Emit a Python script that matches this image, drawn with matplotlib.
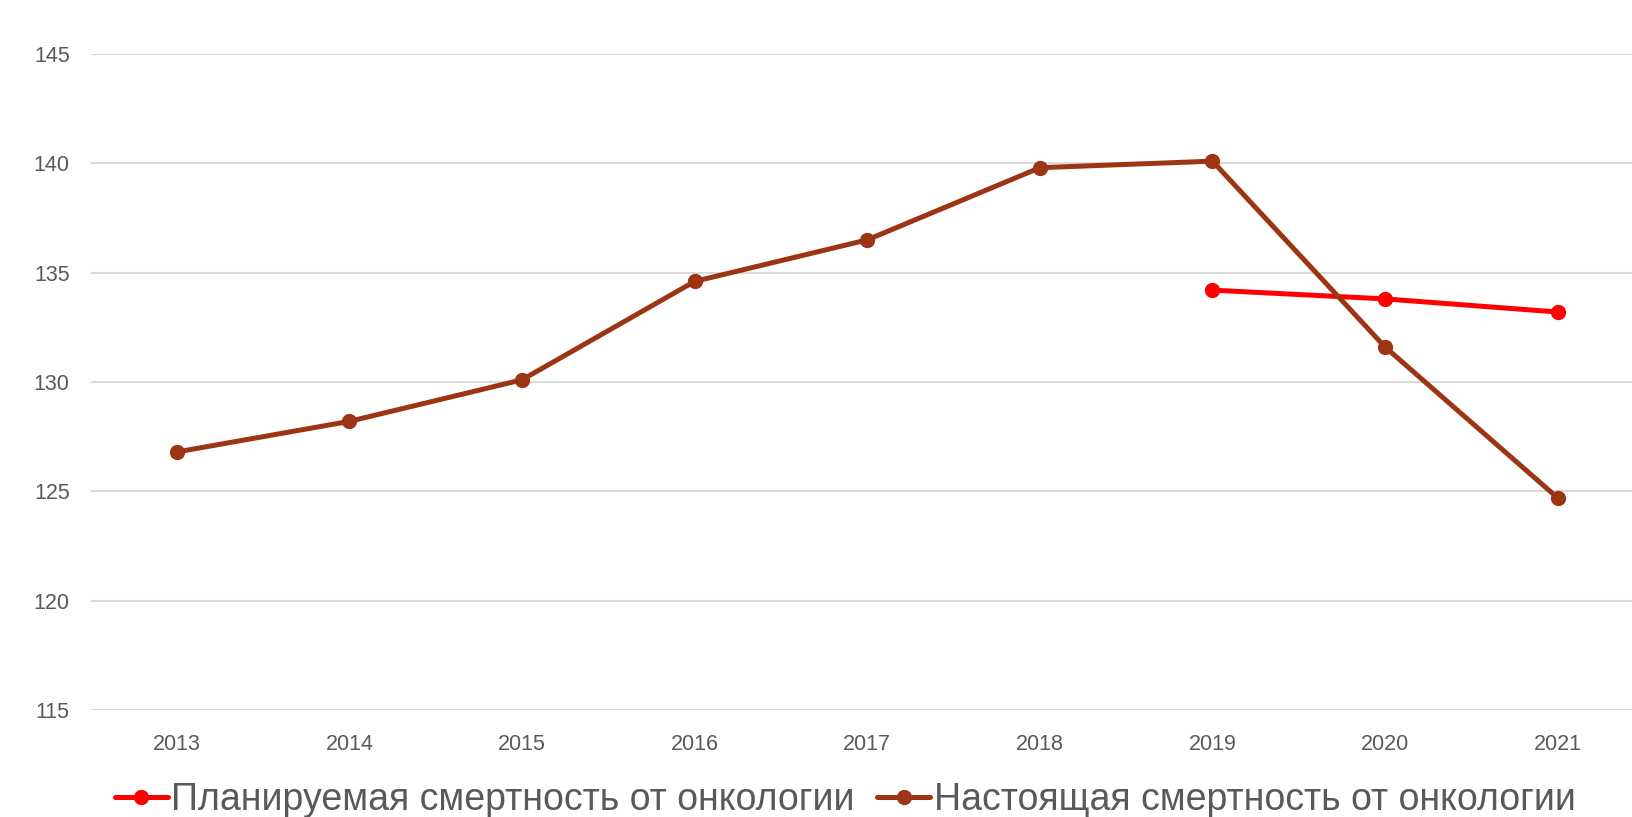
import matplotlib
matplotlib.use("Agg")
import matplotlib.pyplot as plt

years = ["2013", "2014", "2015", "2016", "2017", "2018", "2019", "2020", "2021"]
actual = [126.8, 128.2, 130.1, 134.6, 136.5, 139.8, 140.1, 131.6, 124.7]
planned_years = ["2019", "2020", "2021"]
planned = [134.2, 133.8, 133.2]
label_planned = "Планируемая смертность от онкологии"
label_actual = "Настоящая смертность от онкологии"
yticks = [115, 120, 125, 130, 135, 140, 145]

plt.rcParams['font.family'] = ['Liberation Sans', 'DejaVu Sans']

fig = plt.figure(figsize=(16.32, 8.17), dpi=100)
ax = fig.add_axes([90.5/1632, 1-710/817, (1644-90.5)/1632, (710-54)/817])

xpos = list(range(len(years)))
ppos = [years.index(y) for y in planned_years]

ax.plot(ppos, planned, color='#ff0000', lw=3.6, marker='o', ms=10,
        label=label_planned, solid_capstyle='round', zorder=3)
ax.plot(xpos, actual, color='#9c3513', lw=3.6, marker='o', ms=10,
        label=label_actual, solid_capstyle='round', zorder=3)

ax.set_xlim(-0.5, len(years) - 0.5)
ax.set_ylim(115, 145)
ax.set_yticks(yticks)
ax.set_xticks(xpos)
ax.set_xticklabels(years)
ax.grid(axis='y', color='#d9d9d9', lw=1.5)
ax.set_axisbelow(True)
for s in ax.spines.values():
    s.set_visible(False)
ax.tick_params(axis='both', length=0, labelsize=15.5, labelcolor='#595959')
ax.tick_params(axis='y', pad=15)
ax.tick_params(axis='x', pad=17)

fig.legend(loc='lower center', bbox_to_anchor=(0.518, -0.043), ncol=2,
           frameon=False, prop={'size': 27}, labelcolor='#595959',
           handlelength=1.4, handletextpad=0.1, columnspacing=0.6)

fig.savefig('out.png', dpi=100)
